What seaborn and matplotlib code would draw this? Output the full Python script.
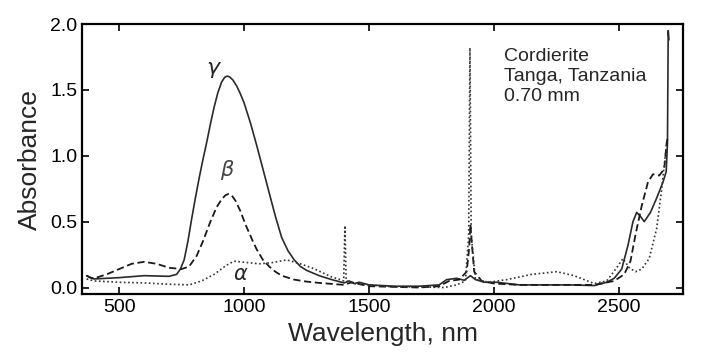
"""
Cordierite (Tanga, Tanzania) polarized absorption spectra, 0.70 mm
"""

import numpy as np
import pandas as pd
import matplotlib
matplotlib.use('Agg')
import matplotlib.pyplot as plt
import seaborn as sns

sns.set_style("ticks")
plt.rcParams['font.family'] = ['Liberation Sans', 'DejaVu Sans']

# ─────────────────────────────────────────────
# DATA
# ─────────────────────────────────────────────
# gamma – solid
wl_gamma = [370, 385, 400, 450, 500, 600, 700, 730, 745, 760, 775, 790, 805, 820, 835,
            850, 865, 880, 895, 910, 922, 932, 942, 955, 970, 985, 1000, 1025, 1050, 1075,
            1100, 1125, 1150, 1175, 1200, 1225, 1250, 1300, 1350, 1400, 1420, 1440,
            1460, 1500, 1600, 1700, 1780, 1810, 1850, 1880, 1905, 1925, 1960, 2010, 2100,
            2200, 2300, 2400, 2450, 2480, 2510, 2535, 2555, 2570, 2585, 2600, 2625, 2650,
            2675, 2688, 2693, 2696, 2699]
abs_gamma = [0.09, 0.075, 0.065, 0.07, 0.075, 0.09, 0.085, 0.10, 0.14, 0.21, 0.35, 0.52,
             0.68, 0.83, 0.97, 1.10, 1.24, 1.37, 1.48, 1.56, 1.595, 1.605, 1.598, 1.575,
             1.53, 1.47, 1.40, 1.25, 1.08, 0.90, 0.72, 0.54, 0.38, 0.28, 0.21, 0.16, 0.13,
             0.09, 0.06, 0.035, 0.05, 0.03, 0.04, 0.02, 0.01, 0.01, 0.02, 0.06, 0.07,
             0.055, 0.09, 0.06, 0.04, 0.04, 0.02, 0.02, 0.02, 0.015, 0.04, 0.07, 0.14,
             0.32, 0.50, 0.57, 0.54, 0.50, 0.57, 0.68, 0.80, 0.88, 1.10, 1.95, 1.88]

# beta – dashed
wl_beta = [370, 385, 400, 450, 500, 550, 600, 650, 700, 750, 780, 810, 835, 865, 890,
           910, 925, 937, 950, 965, 985, 1005, 1035, 1050, 1075, 1100, 1125, 1150, 1175,
           1200, 1250, 1300, 1400, 1430, 1450,
           1500, 1700, 1780, 1820, 1860, 1890, 1900, 1905, 1910, 1920, 1950, 2000, 2100,
           2300, 2400, 2480, 2520, 2545, 2565, 2590, 2615, 2635, 2660, 2680, 2690, 2694]
abs_beta = [0.09, 0.075, 0.07, 0.10, 0.14, 0.18, 0.195, 0.18, 0.15, 0.14, 0.16, 0.24,
            0.35, 0.50, 0.61, 0.67, 0.70, 0.71, 0.70, 0.66, 0.58, 0.48, 0.35, 0.29, 0.21,
            0.16, 0.12, 0.09, 0.075, 0.06, 0.045, 0.035,
            0.02, 0.04, 0.03, 0.01, 0.0, 0.01, 0.05, 0.06, 0.12, 0.30, 0.48, 0.35, 0.12,
            0.05, 0.03, 0.02, 0.02, 0.02, 0.05, 0.10, 0.20, 0.40, 0.62, 0.80, 0.86, 0.85,
            0.90, 1.10, 1.14]

# alpha – dotted
wl_alpha = [370, 400, 450, 500, 600, 700, 780, 830, 880, 930, 960, 1010, 1060, 1115,
            1170, 1225, 1270, 1305, 1350, 1385, 1398, 1403, 1408, 1440, 1500, 1600, 1700,
            1800, 1850, 1885, 1898, 1903, 1908, 1925, 1980, 2050, 2150, 2250, 2320, 2400,
            2450, 2490, 2515, 2540, 2565, 2590, 2620, 2650, 2670, 2690]
abs_alpha = [0.065, 0.05, 0.045, 0.04, 0.035, 0.025, 0.02, 0.05, 0.10, 0.17, 0.20, 0.19,
             0.18, 0.19, 0.21, 0.18, 0.15, 0.12, 0.08, 0.06, 0.05, 0.47, 0.05, 0.03, 0.02,
             0.005, 0.005, 0.0, 0.02, 0.05, 0.40, 1.82, 0.40, 0.06, 0.04, 0.06, 0.10, 0.12,
             0.09, 0.03, 0.05, 0.15, 0.22, 0.15, 0.12, 0.14, 0.22, 0.45, 0.75, 1.10]

# ─────────────────────────────────────────────
# PLOT
# ─────────────────────────────────────────────
fig = plt.figure(figsize=(7.08, 3.64), dpi=100)
ax = fig.add_axes([0.116, 0.192, 0.849, 0.742])

sns.lineplot(x=wl_gamma, y=abs_gamma, ax=ax, color='#2a2a2a', linewidth=1.2, linestyle='-')
sns.lineplot(x=wl_beta, y=abs_beta, ax=ax, color='#1a1a1a', linewidth=1.3, linestyle=(0, (4, 2)))
sns.lineplot(x=wl_alpha, y=abs_alpha, ax=ax, color='#333333', linewidth=1.2, linestyle=(0, (1, 1.5)))

ax.text(876, 1.67, 'γ', fontsize=16, style='italic', ha='center', va='center', family='DejaVu Sans')
ax.text(932, 0.89, 'β', fontsize=15, style='italic', ha='center', va='center',
        color='#444444', family='DejaVu Sans')
ax.text(984, 0.10, 'α', fontsize=15, style='italic', ha='center', va='center', family='DejaVu Sans')
ax.text(2040, 1.82, 'Cordierite\nTanga, Tanzania\n0.70 mm', fontsize=14, ha='left', va='top',
        linespacing=1.25)

ax.set_xlim(352, 2756)
ax.set_ylim(-0.05, 2.0)
ax.set_xticks([500, 1000, 1500, 2000, 2500])
ax.set_yticks([0.0, 0.5, 1.0, 1.5, 2.0])
ax.set_yticklabels(['0.0', '0.5', '1.0', '1.5', '2.0'])
ax.tick_params(direction='in', length=5, width=1.2, labelsize=14, top=True, right=True,
               labeltop=False, labelright=False, colors='black')
for s in ax.spines.values():
    s.set_linewidth(1.6)
    s.set_color('black')
ax.set_xlabel('Wavelength, nm', fontsize=19, labelpad=4)
ax.set_ylabel('Absorbance', fontsize=19, labelpad=6)

plt.savefig('out.png', dpi=100)
plt.close()
